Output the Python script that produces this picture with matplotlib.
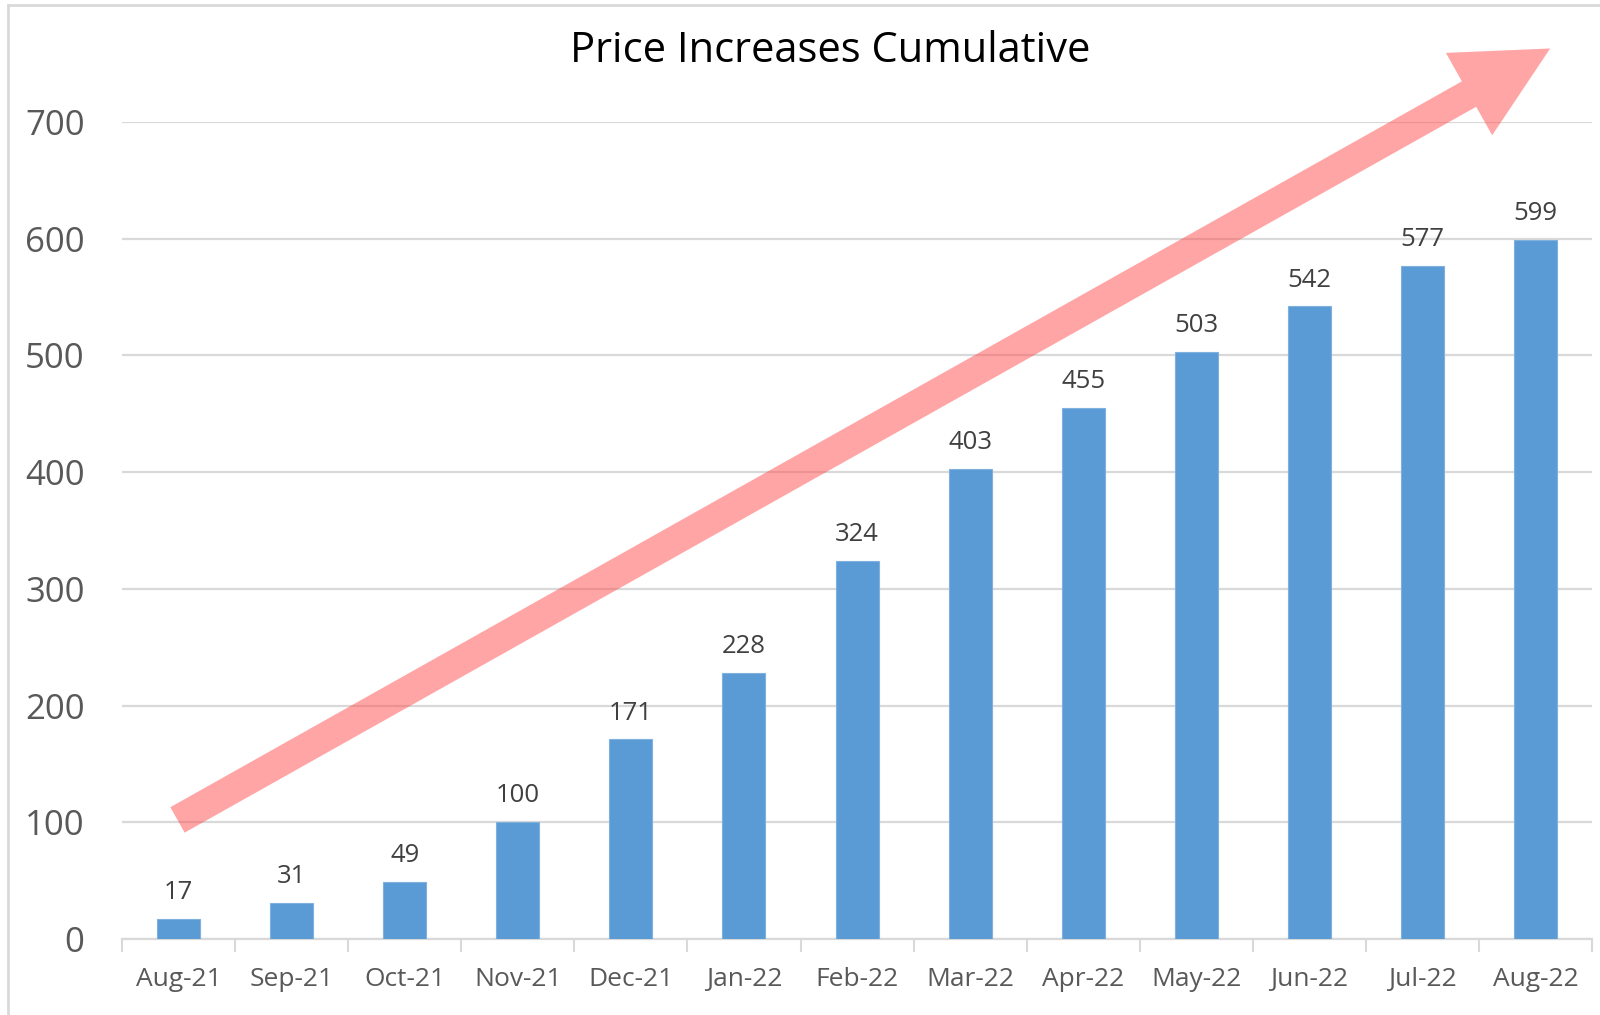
import matplotlib
matplotlib.use("Agg")
import matplotlib.pyplot as plt
from matplotlib.lines import Line2D

months = ['Aug-21', 'Sep-21', 'Oct-21', 'Nov-21', 'Dec-21', 'Jan-22', 'Feb-22',
          'Mar-22', 'Apr-22', 'May-22', 'Jun-22', 'Jul-22', 'Aug-22']
values = [17, 31, 49, 100, 171, 228, 324, 403, 455, 503, 542, 577, 599]
yticks = [0, 100, 200, 300, 400, 500, 600, 700]

plt.rcParams['font.family'] = ['Open Sans', 'DejaVu Sans']

fig = plt.figure(figsize=(16, 10.15), dpi=100)
ax = fig.add_axes([0.0763, 0.0749, 0.9187, 0.8049])

x = list(range(len(months)))
ax.bar(x, values, width=0.38, color='#5b9bd5', edgecolor='#7fb0de', linewidth=0.8, zorder=3)
for xi, v in zip(x, values):
    ax.annotate(str(v), (xi, v), xytext=(0, 10), textcoords='offset points',
                ha='center', va='bottom', fontsize=18.5, color='#404040')

ax.set_xlim(-0.5, len(months) - 0.5)
ax.set_ylim(0, 700)
ax.set_yticks(yticks)
ax.set_xticks(x)
ax.set_xticklabels(months)
ax.set_xticks([i - 0.5 for i in range(len(months) + 1)], minor=True)
ax.tick_params(axis='x', which='major', length=0, pad=20, labelsize=19, labelcolor='#595959')
ax.tick_params(axis='x', which='minor', length=9, width=1.5, color='#d9d9d9')
ax.tick_params(axis='y', length=0, pad=27, labelsize=25, labelcolor='#595959')
ax.grid(axis='y', color='#d9d9d9', linewidth=1.6, zorder=0)
for side in ['top', 'right', 'left']:
    ax.spines[side].set_visible(False)
ax.spines['bottom'].set_color('#d9d9d9')
ax.spines['bottom'].set_linewidth(1.6)

# trend arrow
ax.annotate('', xy=(12.13, 763), xytext=(-0.01, 102), annotation_clip=False,
            arrowprops=dict(arrowstyle='simple,head_length=6.7,head_width=6.8,tail_width=2.1',
                            mutation_scale=10, fc='#ff4d4d', ec='none', alpha=0.5,
                            shrinkA=0, shrinkB=0), zorder=4)

fig.text(0.519, 1 - 51 / 1015, 'Price Increases Cumulative', ha='center', va='center',
         fontsize=30, color='black')

# chart frame
fig.add_artist(Line2D([8 / 1600, 8 / 1600], [0, 1 - 5 / 1015], color='#d9d9d9', lw=2,
                      transform=fig.transFigure))
fig.add_artist(Line2D([8 / 1600, 1], [1 - 5 / 1015, 1 - 5 / 1015], color='#d9d9d9', lw=2,
                      transform=fig.transFigure))

fig.savefig('out.png', dpi=100)
